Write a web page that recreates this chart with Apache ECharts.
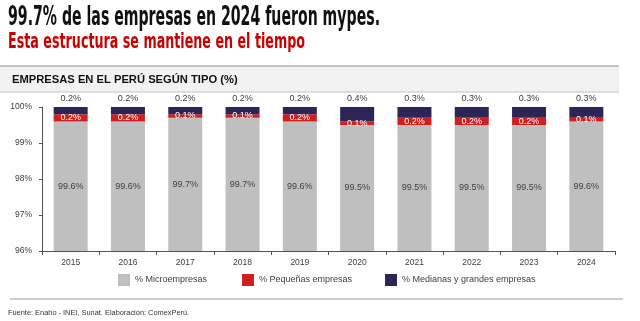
<!DOCTYPE html>
<html>
<head>
<meta charset="utf-8">
<script src="https://cdn.jsdelivr.net/npm/echarts@6/dist/echarts.min.js"></script>
<style>
  html, body { margin: 0; padding: 0; background: #fff; }
  #chart { width: 640px; height: 321px; }
</style>
</head>
<body>
<div id="chart"></div>
<script>
// Empresas en el Perú según tipo (% del total)
const years = ['2015', '2016', '2017', '2018', '2019', '2020', '2021', '2022', '2023', '2024'];
const microempresas = [99.6, 99.6, 99.7, 99.7, 99.6, 99.5, 99.5, 99.5, 99.5, 99.6];
const pequenas = [0.2, 0.2, 0.1, 0.1, 0.2, 0.1, 0.2, 0.2, 0.2, 0.1];
const medianasGrandes = [0.2, 0.2, 0.2, 0.2, 0.2, 0.4, 0.3, 0.3, 0.3, 0.3];
const seriesNames = ['% Microempresas', '% Pequeñas empresas', '% Medianas y grandes empresas'];

const titleText = '99.7% de las empresas en 2024 fueron mypes.';
const subtitleText = 'Esta estructura se mantiene en el tiempo';
const headerText = 'EMPRESAS EN EL PERÚ SEGÚN TIPO (%)';
const sourceText = 'Fuente: Enaho - INEI, Sunat. Elaboración: ComexPerú.';

const condensedFont = '"Liberation Sans Narrow", "DejaVu Sans Condensed", "Liberation Sans", sans-serif';
const bodyFont = '"Liberation Sans", Arial, sans-serif';

// Horizontal squeeze so the headline text fills a given width
function squeezeFor(text, font, targetWidth) {
  const ctx = document.createElement('canvas').getContext('2d');
  ctx.font = font;
  const w = ctx.measureText(text).width;
  return w > 0 ? targetWidth / w : 1;
}
const titleFont = 'bold 26px ' + condensedFont;
const subFont = 'bold 21px ' + condensedFont;
const titleScale = squeezeFor(titleText, titleFont, 372);
const subScale = squeezeFor(subtitleText, subFont, 297);

const pct = v => v.toFixed(1) + '%';
const labelGray = '#404040';

const chart = echarts.init(document.getElementById('chart'), null, { renderer: 'canvas' });

function legendAt(name, left) {
  return {
    data: [name],
    left: left,
    top: 274,
    orient: 'horizontal',
    icon: 'rect',
    itemWidth: 12,
    itemHeight: 12,
    itemGap: 0,
    selectedMode: false,
    textStyle: { fontFamily: bodyFont, fontSize: 9, color: labelGray },
    padding: 0
  };
}

chart.setOption({
  animation: false,
  backgroundColor: '#ffffff',
  graphic: [
    {
      type: 'text', x: 8, y: 5, scaleX: titleScale, scaleY: 1,
      style: { text: titleText, font: titleFont, fill: '#111111' }
    },
    {
      type: 'text', x: 8, y: 32, scaleX: subScale, scaleY: 1,
      style: { text: subtitleText, font: subFont, fill: '#cc0000' }
    },
    {
      type: 'rect', shape: { x: 0, y: 66, width: 619, height: 26 },
      style: { fill: '#f2f2f2', stroke: null }
    },
    {
      type: 'line', shape: { x1: 0, y1: 66, x2: 619, y2: 66 },
      style: { stroke: '#c4c4c4', lineWidth: 2 }
    },
    {
      type: 'line', shape: { x1: 0, y1: 92, x2: 619, y2: 92 },
      style: { stroke: '#c4c4c4', lineWidth: 1 }
    },
    {
      type: 'text', x: 12, y: 80,
      style: { text: headerText, font: 'bold 11.2px ' + bodyFont, fill: '#111111', textVerticalAlign: 'middle' }
    },
    {
      type: 'line', shape: { x1: 10, y1: 299, x2: 623, y2: 299 },
      style: { stroke: '#bdbdbd', lineWidth: 1.5 }
    },
    {
      type: 'text', x: 8, y: 313,
      style: { text: sourceText, font: '7.4px ' + bodyFont, fill: '#333333', textVerticalAlign: 'middle' }
    }
  ],
  legend: [
    legendAt(seriesNames[0], 118),
    legendAt(seriesNames[1], 242),
    legendAt(seriesNames[2], 385)
  ],
  grid: { left: 42, right: 25, top: 107, bottom: 70, containLabel: false },
  xAxis: {
    type: 'category',
    data: years,
    axisLine: { lineStyle: { color: '#555555', width: 1 } },
    axisTick: { show: true, length: 4, inside: false, lineStyle: { color: '#555555' } },
    axisLabel: { color: labelGray, fontFamily: bodyFont, fontSize: 8.5, margin: 7 }
  },
  yAxis: {
    type: 'value',
    min: 96,
    max: 100,
    interval: 1,
    splitLine: { show: false },
    axisLine: { show: true, lineStyle: { color: '#555555', width: 1 } },
    axisTick: { show: true, length: 3, lineStyle: { color: '#555555' } },
    axisLabel: { color: labelGray, fontFamily: bodyFont, fontSize: 8.5, margin: 10, formatter: '{value}%' }
  },
  series: [
    {
      name: seriesNames[0], type: 'bar', stack: 'total', barWidth: 34,
      data: microempresas,
      itemStyle: { color: '#bfbfbf' },
      label: {
        show: true, position: 'inside', color: labelGray,
        fontFamily: bodyFont, fontSize: 9,
        formatter: p => pct(p.value)
      }
    },
    {
      name: seriesNames[1], type: 'bar', stack: 'total', barWidth: 34,
      data: pequenas,
      itemStyle: { color: '#d11f1f' },
      label: {
        show: true, position: 'inside', color: '#ffffff',
        fontFamily: bodyFont, fontSize: 9,
        formatter: p => pct(p.value)
      }
    },
    {
      name: seriesNames[2], type: 'bar', stack: 'total', barWidth: 34,
      data: medianasGrandes,
      itemStyle: { color: '#2c2556' },
      label: {
        show: true, position: 'top', distance: 4, color: labelGray,
        fontFamily: bodyFont, fontSize: 9,
        formatter: p => pct(p.value)
      }
    }
  ]
});
</script>
</body>
</html>
